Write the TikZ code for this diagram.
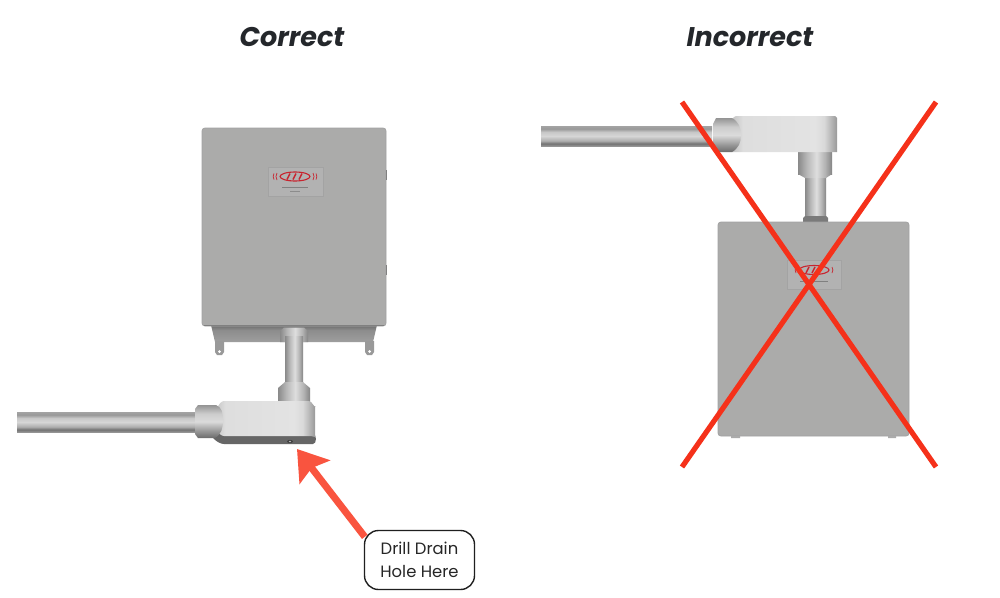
\documentclass[tikz,border=0pt]{standalone}
\usepackage{fontspec}
\setmainfont{Poppins}
\usetikzlibrary{arrows.meta,calc}
\definecolor{boxgray}{HTML}{ABABAA}
\definecolor{boxedge}{HTML}{A2A2A2}
\definecolor{crossred}{HTML}{F5311A}
\definecolor{arrowred}{HTML}{F9543F}
\definecolor{titleink}{HTML}{24272B}
\definecolor{logored}{HTML}{C8242F}
% bottom to top colour bands; the path's box covers 25bp..75bp
\pgfdeclareverticalshading{pipeband}{100bp}{color(0bp)=(black!42!white); color(25bp)=(black!42!white); color(31bp)=(black!55!white); color(38bp)=(black!32!white); color(50bp)=(black!16!white); color(60bp)=(black!22!white); color(68bp)=(black!40!white); color(75bp)=(black!36!white); color(100bp)=(black!36!white)}
\pgfdeclareverticalshading{fitband}{100bp}{color(0bp)=(black!58!white); color(25bp)=(black!58!white); color(36bp)=(black!40!white); color(50bp)=(black!14!white); color(62bp)=(black!20!white); color(75bp)=(black!42!white); color(100bp)=(black!42!white)}
\pgfdeclarehorizontalshading{bodyflank}{100bp}{color(0bp)=(black!25!white); color(25bp)=(black!25!white); color(31bp)=(black!13!white); color(65bp)=(black!11!white); color(69bp)=(black!15!white); color(75bp)=(black!40!white); color(100bp)=(black!40!white)}
\pgfdeclarehorizontalshading{neckband}{100bp}{color(0bp)=(black!46!white); color(25bp)=(black!46!white); color(38bp)=(black!28!white); color(52bp)=(black!13!white); color(65bp)=(black!30!white); color(75bp)=(black!48!white); color(100bp)=(black!48!white)}
\pgfdeclareverticalshading{skirtband}{100bp}{color(0bp)=(black!38!white); color(25bp)=(black!38!white); color(60bp)=(black!45!white); color(75bp)=(black!58!white); color(100bp)=(black!58!white)}
\tikzset{
  pipepart/.style={shading=pipeband,draw=none},
  fitpart/.style={shading=fitband,draw=none},
  bodypart/.style={shading=bodyflank,draw=none},
  neckpart/.style={shading=neckband,draw=none},
  enclosure/.style={fill=boxgray,draw=boxedge,line width=0.8,rounded corners=3},
  plate/.style={fill=black!30!white,draw=black!36!white,line width=0.6},
  crossline/.style={draw=crossred,line width=5.2},
  titletext/.style={font=\fontsize{27}{30}\selectfont\bfseries\itshape,text=titleink,inner sep=0},
  callout/.style={draw=black!88!white,line width=1.4,rounded corners=14,fill=white,minimum width=110,minimum height=59,inner sep=0,align=center,font=\fontsize{16.4}{23.5}\selectfont,text=black!85!white},
  logoring/.style={draw=logored,line width=1.1},
}
\begin{document}
\begin{tikzpicture}[x=1pt,y=-1pt]
\useasboundingbox (0,0) rectangle (1000,597);
\fill[white] (0,0) rectangle (1000,597);
\node[titletext] (titleok) at (292,37) {Correct};
\node[titletext] (titlebad) at (750,37) {Incorrect};
% ---------- correct assembly
\path[shading=skirtband] (211,325) -- (377,325) -- (373,342) -- (215,342) -- cycle;
\foreach \tx in {215,365}{
  \fill[black!40!white] (\tx,341) -- (\tx+9,341) -- (\tx+9,352) -- (\tx+7,355) -- (\tx+2,355) -- (\tx,352) -- cycle;
  \fill[white] (\tx+4.5,351.5) circle (1.5);
}
\path[enclosure] (202,128) rectangle (386,326);
\draw[black!50!white,line width=1.2] (204,325.6) -- (384,325.6);
\fill[black!50!white] (385.5,170) rectangle (387,180);
\fill[black!50!white] (385.5,265) rectangle (387,275);
\path[plate] (268,167) rectangle (323,196);
\draw[logoring] (295,176.5) ellipse (15 and 4.5);
\draw[logored,line width=1.4] (287,179.5) -- (290,173.5) (293,179.5) -- (296,173.5) (299,179.5) -- (302,173.5);
\draw[logored,line width=0.7] (277,173) to[bend right=30] (277,180) (274,173.5) to[bend right=30] (274,179.5) (313,173) to[bend left=30] (313,180) (316,173.5) to[bend left=30] (316,179.5);
\draw[black!50!white,line width=0.7] (282,187) -- (308,187);
\draw[black!45!white,line width=0.5] (290,191) -- (300,191);
\path[neckpart] (280,331) -- (284,327.5) -- (304,327.5) -- (308,331) -- (308,342) -- (280,342) -- cycle;
\path[neckpart] (285,336) rectangle (303,382);
\path[neckpart] (285,382) -- (303,382) -- (310,388) -- (310,402) -- (278,402) -- (278,388) -- cycle;
\path[pipepart] (17,412) rectangle (196,432);
\path[fill=black!60!white] (214,434) -- (313,434) to[out=0,in=0,looseness=1] (313,444) -- (224,444) to[out=180,in=180,looseness=1.2] (214,434) -- cycle;
\path[bodypart] (213,410) to[out=-70,in=180] (224,401) -- (309,401) to[out=0,in=-90] (315,406) -- (315,437) -- (311,436) -- (224,436) to[out=180,in=90] (213,430) -- cycle;
\path[fitpart] (195,409) -- (198,405) -- (216,405) to[out=-20,in=90] (223,420) to[out=-90,in=30] (215,438) -- (198,438) -- (195,434) -- cycle;
\fill[black!75!white] (290,441.5) ellipse (3 and 1.6);
\fill[black!30!white] (290,441.5) ellipse (1.2 and 0.8);
% ---------- incorrect assembly
\path[neckpart] (805,177) rectangle (826,218);
\path[neckpart] (798,152) rectangle (832,174) ;
\path[neckpart] (798,174) -- (832,174) -- (826,178) -- (805,178) -- cycle;
\fill[black!52!white] (803,218) -- (805,216) -- (826,216) -- (828,218) -- (828,222) -- (803,222) -- cycle;
\path[enclosure] (718,222) rectangle (909,436);
\fill[black!33!white] (731,436) rectangle (740,438) (888,436) rectangle (896,438);
\path[plate] (787,260) rectangle (841,289);
\draw[logoring] (814,270) ellipse (15 and 4.5);
\draw[logored,line width=1.4] (806,273) -- (809,267) (812,273) -- (815,267) (818,273) -- (821,267);
\draw[logored,line width=0.7] (796,267) to[bend right=30] (796,273) (832,267) to[bend left=30] (832,273);
\draw[black!50!white,line width=0.7] (800,281) -- (828,281);
\path[pipepart] (541,126) rectangle (712,146);
\path[bodypart] (730,120) to[out=-60,in=180] (736,116) -- (835,116) -- (837,118) -- (837,152) -- (732,152) -- cycle;
\path[fitpart] (713,124) -- (716,118) -- (732,118) to[out=-30,in=90] (741,135) to[out=-90,in=30] (732,152) -- (715,152) -- (713,146) -- cycle;
% ---------- red cross
\coordinate (crossnw) at (682,102);
\coordinate (crossse) at (936,467);
\coordinate (crosssw) at (682,467);
\coordinate (crossne) at (936,102);
\draw[crossline] (crossnw) -- (crossse);
\draw[crossline] (crosssw) -- (crossne);
% ---------- callout
\node[callout] (drill) at (419.5,560) {Drill Drain\\Hole Here};
\coordinate (drainpoint) at (297,449);
\coordinate (drilltail) at ($(drill.north west)+(1,7)$);
\draw[arrowred,line width=7,-{Stealth[length=29,width=38,inset=5]}] (drilltail) -- (drainpoint);
\end{tikzpicture}
\end{document}
